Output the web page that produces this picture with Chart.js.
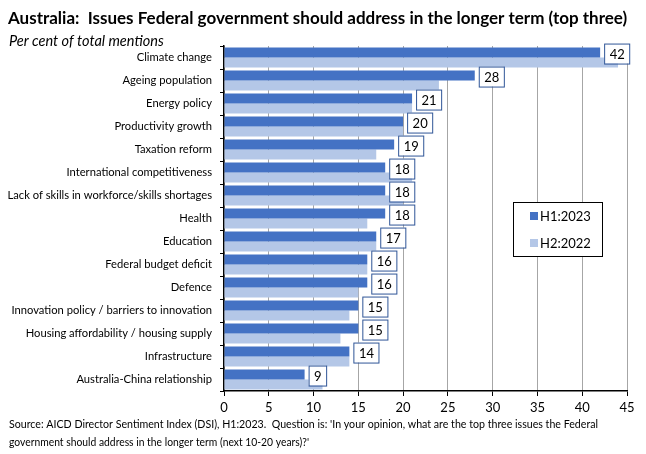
<!DOCTYPE html>
<html>
<head>
<meta charset="utf-8">
<script src="https://cdn.jsdelivr.net/npm/chart.js@4"></script>
<style>
  html, body { margin: 0; padding: 0; background: #fff; }
  #wrap { position: relative; width: 646px; height: 454px; }
</style>
</head>
<body>
<div id="wrap"><canvas id="issuesChart"></canvas></div>
<script>
const categories = [
  "Climate change",
  "Ageing population",
  "Energy policy",
  "Productivity growth",
  "Taxation reform",
  "International competitiveness",
  "Lack of skills in workforce/skills shortages",
  "Health",
  "Education",
  "Federal budget deficit",
  "Defence",
  "Innovation policy / barriers to innovation",
  "Housing affordability / housing supply",
  "Infrastructure",
  "Australia-China relationship",
];
const h1_2023 = [42, 28, 21, 20, 19, 18, 18, 18, 17, 16, 16, 15, 15, 14, 9];
const h2_2022 = [44, 24, 21, 20, 17, 21, 20, 16, 17, 16, 15, 14, 13, 14, 11];
const xTicks = [0, 5, 10, 15, 20, 25, 30, 35, 40, 45];

const FONT = "Lato, 'Open Sans', sans-serif";
const DARK = "#4472C4";
const LIGHT = "#B4C7E7";

// title, subtitle and source note
const textPlugin = {
  id: "texts",
  afterDraw(chart) {
    const ctx = chart.ctx;
    ctx.save();
    ctx.fillStyle = "#000";
    ctx.textBaseline = "alphabetic";
    ctx.textAlign = "left";
    ctx.font = "bold 17px " + FONT;
    ctx.fillText("Australia:  Issues Federal government should address in the longer term (top three)", 8, 24, 620);
    ctx.font = "italic 14.5px " + FONT;
    ctx.fillText("Per cent of total mentions", 9, 46);
    ctx.font = "11.5px " + FONT;
    ctx.fillText("Source: AICD Director Sentiment Index (DSI), H1:2023.  Question is: 'In your opinion, what are the top three issues the Federal", 9, 428, 589);
    ctx.fillText("government should address in the longer term (next 10-20 years)?'", 9, 446, 300);
    ctx.restore();
  },
};

// boxed value labels on the H1 bars
const labelPlugin = {
  id: "valueBoxes",
  afterDatasetsDraw(chart) {
    const ctx = chart.ctx;
    const meta = chart.getDatasetMeta(0);
    ctx.save();
    ctx.font = "13px " + FONT;
    meta.data.forEach((bar, i) => {
      const txt = String(h1_2023[i]);
      const w = ctx.measureText(txt).width + 10;
      const h = 20;
      const x = bar.x + 4;
      const y = bar.y - h / 2 + 1;
      ctx.fillStyle = "#fff";
      ctx.fillRect(x, y, w, h);
      ctx.strokeStyle = "#2F5597";
      ctx.lineWidth = 1;
      ctx.strokeRect(x + 0.5, y + 0.5, w, h);
      ctx.fillStyle = "#000";
      ctx.textAlign = "center";
      ctx.textBaseline = "middle";
      ctx.fillText(txt, x + w / 2 + 0.5, y + h / 2 + 1);
    });
    ctx.restore();
  },
};

// legend box inside the plot
const legendPlugin = {
  id: "boxLegend",
  afterDraw(chart) {
    const ctx = chart.ctx;
    ctx.save();
    ctx.fillStyle = "#fff";
    ctx.fillRect(513, 202, 89, 54);
    ctx.strokeStyle = "#000";
    ctx.lineWidth = 1;
    ctx.strokeRect(513.5, 202.5, 89, 54);
    ctx.font = "13px " + FONT;
    ctx.textBaseline = "middle";
    ctx.textAlign = "left";
    const rows = [216, 243];
    chart.data.datasets.forEach((ds, i) => {
      ctx.fillStyle = ds.backgroundColor;
      ctx.fillRect(530, rows[i] - 4, 8, 8);
      ctx.fillStyle = "#000";
      ctx.fillText(ds.label, 540, rows[i] + 1);
    });
    ctx.restore();
  },
};

new Chart(document.getElementById("issuesChart"), {
  type: "bar",
  data: {
    labels: categories,
    datasets: [
      { label: "H1:2023", data: h1_2023, backgroundColor: DARK },
      { label: "H2:2022", data: h2_2022, backgroundColor: LIGHT },
    ],
  },
  options: {
    indexAxis: "y",
    responsive: true,
    maintainAspectRatio: false,
    animation: false,
    categoryPercentage: 0.86,
    barPercentage: 1,
    layout: { padding: { top: 46, right: 19, bottom: 39, left: 0 } },
    plugins: {
      legend: { display: false },
      tooltip: { enabled: false },
    },
    scales: {
      x: {
        min: 0,
        max: 45,
        afterBuildTicks(scale) {
          scale.ticks = xTicks.map((v) => ({ value: v }));
        },
        afterFit(scale) {
          scale.height = 24;
        },
        grid: {
          color: "#A6A6A6",
          lineWidth: 1,
          tickColor: "#000",
          tickLength: 5,
        },
        border: { display: true, color: "#000", width: 1.5 },
        ticks: {
          color: "#000",
          font: { family: FONT, size: 13 },
          padding: 4,
        },
      },
      y: {
        afterFit(scale) {
          scale.width = 224;
        },
        grid: {
          offset: true,
          drawOnChartArea: false,
          color: "#000",
          tickLength: 4,
        },
        border: { display: true, color: "#000", width: 1.5 },
        ticks: {
          color: "#000",
          font: { family: FONT, size: 11.2 },
          padding: 8,
          autoSkip: false,
        },
      },
    },
  },
  plugins: [textPlugin, labelPlugin, legendPlugin],
});
</script>
</body>
</html>
